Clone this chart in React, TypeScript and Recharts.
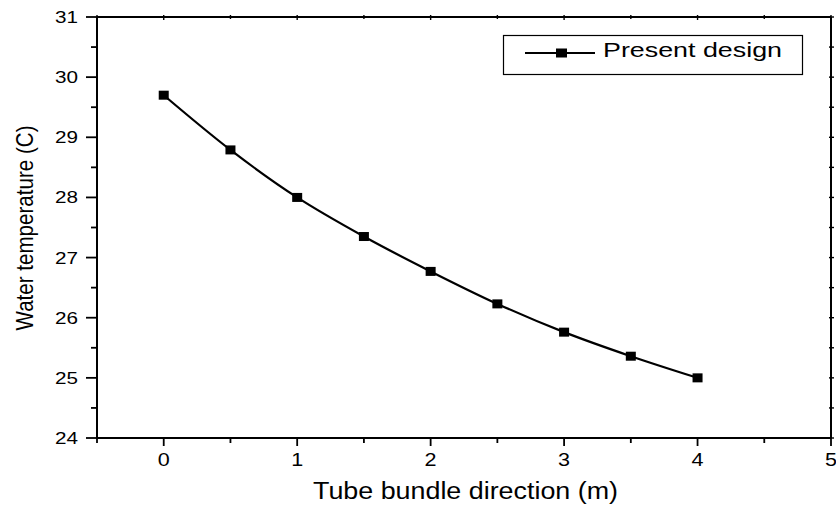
import React from 'react';
import { LineChart, Line, XAxis, YAxis, Customized } from 'recharts';

const xValues = [0, 0.5, 1, 1.5, 2, 2.5, 3, 3.5, 4];
const waterTemp = [29.7, 28.79, 28.0, 27.35, 26.77, 26.23, 25.76, 25.36, 25.0];
const xTicks = [-0.5, 0, 0.5, 1, 1.5, 2, 2.5, 3, 3.5, 4, 4.5, 5];
const yTicks = [24, 24.5, 25, 25.5, 26, 26.5, 27, 27.5, 28, 28.5, 29, 29.5, 30, 30.5, 31];
const seriesName = 'Present design';
const xLabel = 'Tube bundle direction (m)';
const yLabel = 'Water temperature (C)';

const data = xValues.map((x, i) => ({ x, t: waterTemp[i] }));

const FONT = '"Liberation Sans", Arial, Helvetica, sans-serif';

const BottomTick = (props: any) => {
  const { x, y, payload } = props;
  const major = Number.isInteger(payload.value);
  return (
    <g>
      <line x1={x} x2={x} y1={y} y2={y + (major ? 8 : 5)} stroke="#000" strokeWidth={1.8} />
      {major && payload.value >= 0 && (
        <text x={x} y={y + 28} textAnchor="middle" fontSize={18} fontFamily={FONT} fill="#000"
          textLength={12} lengthAdjust="spacingAndGlyphs">
          {payload.value}
        </text>
      )}
    </g>
  );
};

const TopTick = (props: any) => {
  const { x, y, payload } = props;
  const major = Number.isInteger(payload.value);
  return <line x1={x} x2={x} y1={y - 2} y2={y + (major ? 3 : 2)} stroke="#000" strokeWidth={1.4} />;
};

const LeftTick = (props: any) => {
  const { x, y, payload } = props;
  const major = Number.isInteger(payload.value);
  return (
    <g>
      <line x1={x - (major ? 11 : 6)} x2={x} y1={y} y2={y} stroke="#000" strokeWidth={1.8} />
      {major && (
        <text x={x - 19} y={y + 6} textAnchor="end" fontSize={17} fontFamily={FONT} fill="#000"
          textLength={23} lengthAdjust="spacingAndGlyphs">
          {payload.value}
        </text>
      )}
    </g>
  );
};

const RightTick = (props: any) => {
  const { x, y } = props;
  return <line x1={x - 2} x2={x + 3} y1={y} y2={y} stroke="#000" strokeWidth={1.4} />;
};

const SquareDot = (props: any) => {
  const { cx, cy, index } = props;
  if (cx == null || cy == null) return null;
  return <rect key={`d${index}`} x={cx - 5} y={cy - 4.5} width={10} height={9} fill="#000" />;
};

const Extras = () => (
  <g>
    <text
      transform="translate(33,228) rotate(-90)"
      textAnchor="middle"
      fontSize={24}
      fontFamily={FONT}
      fill="#000"
      textLength={205}
      lengthAdjust="spacingAndGlyphs"
    >
      {yLabel}
    </text>
    <text x={465.5} y={499} textAnchor="middle" fontSize={23} fontFamily={FONT} fill="#000"
      textLength={305} lengthAdjust="spacingAndGlyphs">
      {xLabel}
    </text>
    <rect x={503.5} y={35.5} width={299} height={39} fill="#fff" stroke="#000" strokeWidth={1.2} />
    <line x1={525} x2={595} y1={53} y2={53} stroke="#000" strokeWidth={2} />
    <rect x={556} y={48.5} width={11} height={9} fill="#000" />
    <text x={603} y={57} fontSize={20} fontFamily={FONT} fill="#000" textLength={179}
      lengthAdjust="spacingAndGlyphs">
      {seriesName}
    </text>
  </g>
);

const axisLineStyle = { stroke: '#000', strokeWidth: 2 };

export default function App() {
  return (
    <div style={{ position: 'absolute', left: 0, top: 0, width: 836, height: 506, background: '#fff' }}>
      <LineChart width={836} height={506} data={data} margin={{ top: 0, right: 0, bottom: 0, left: 0 }}>
        <XAxis
          dataKey="x"
          type="number"
          domain={[-0.5, 5]}
          ticks={xTicks}
          allowDataOverflow
          height={68}
          tickSize={0}
          tickMargin={0}
          tick={<BottomTick />}
          stroke="#000"
          strokeWidth={2}
          axisLine={axisLineStyle}
          interval={0}
        />
        <XAxis
          xAxisId="top"
          orientation="top"
          dataKey="x"
          type="number"
          domain={[-0.5, 5]}
          ticks={xTicks}
          allowDataOverflow
          height={17}
          tickSize={0}
          tickMargin={0}
          tick={<TopTick />}
          stroke="#000"
          strokeWidth={2}
          axisLine={axisLineStyle}
          interval={0}
        />
        <YAxis
          type="number"
          domain={[24, 31]}
          ticks={yTicks}
          allowDataOverflow
          width={97}
          tickSize={0}
          tickMargin={0}
          tick={<LeftTick />}
          stroke="#000"
          strokeWidth={2}
          axisLine={axisLineStyle}
          interval={0}
        />
        <YAxis
          yAxisId="right"
          orientation="right"
          type="number"
          domain={[24, 31]}
          ticks={yTicks}
          allowDataOverflow
          width={5}
          tickSize={0}
          tickMargin={0}
          tick={<RightTick />}
          stroke="#000"
          strokeWidth={2}
          axisLine={axisLineStyle}
          interval={0}
        />
        <Line
          dataKey="t"
          name={seriesName}
          type="monotone"
          stroke="#000"
          strokeWidth={2.2}
          dot={<SquareDot />}
          activeDot={false}
          isAnimationActive={false}
        />
        <Customized component={<Extras />} />
      </LineChart>
    </div>
  );
}
